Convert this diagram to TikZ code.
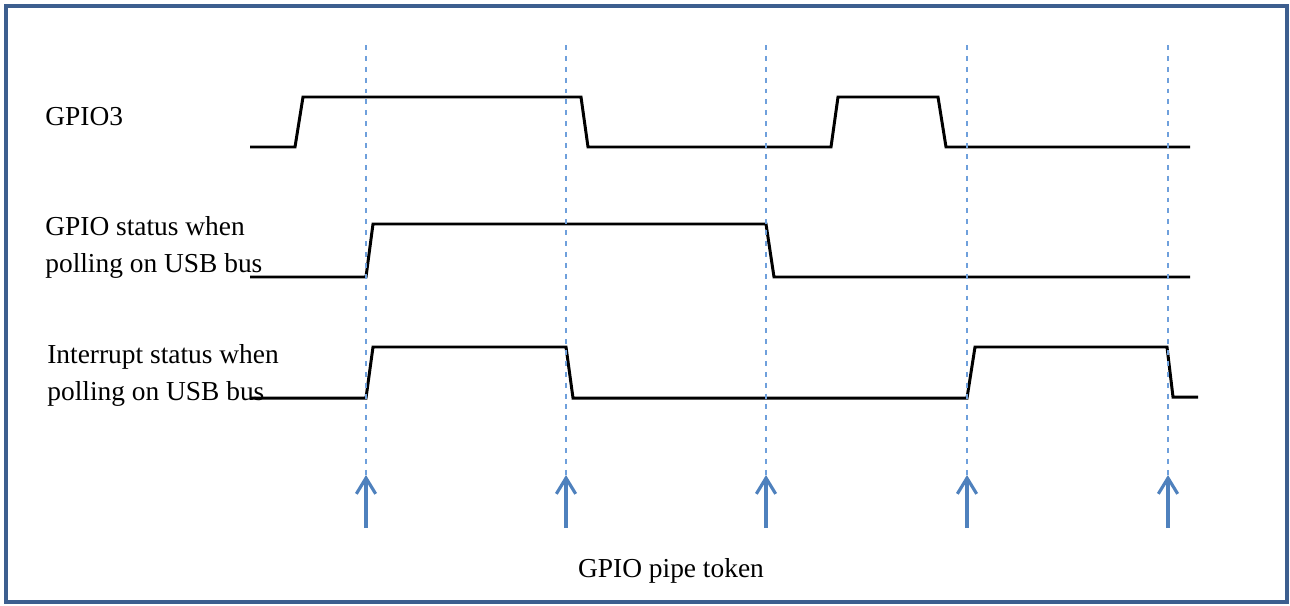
\documentclass[tikz,border=0pt]{standalone}
\usepackage{fontspec}
\setmainfont{Liberation Serif}
\usetikzlibrary{arrows.meta}
\definecolor{framecol}{HTML}{3D5F8F}
\definecolor{tokencol}{HTML}{4F81BD}
\definecolor{gridcol}{HTML}{6FA0DC}

\begin{document}
\begin{tikzpicture}[x=0.02cm, y=-0.02cm,
        signal/.style = {black, line width=1.7pt, line join=miter},
        tick/.style = {gridcol, line width=0.85pt, dash pattern=on 2.8pt off 3.4pt},
        token/.style = {tokencol, line width=1.8pt, -{Straight Barb[length=9pt, width=11pt]}},
        lbl/.style = {font=\fontsize{15.6}{21}\selectfont, inner sep=0pt, align=left},
    ]
        \useasboundingbox (0,0) rectangle (1290,605);
        \draw[framecol, line width=2.8pt] (6,6) rectangle (1287,602);

        % labels
        \node[lbl, anchor=base west] (gpio) at (45,125) {GPIO3};
        \node[lbl, anchor=base west] (poll) at (45,272) {GPIO status when\\polling on USB bus};
        \node[lbl, anchor=base west] (intr) at (47,400) {Interrupt status when\\polling on USB bus};
        \node[lbl, anchor=base] (pipe) at (671,577) {GPIO pipe token};

        % waveforms
        \draw[signal] (250,147) -- (295,147) -- (303,97) -- (581,97) -- (588,147) -- (831,147)
            -- (838,97) -- (938,97) -- (946,147) -- (1190,147);
        \draw[signal] (250,277) -- (366,277) -- (373,224) -- (766,224) -- (774,277) -- (1190,277);
        \draw[signal] (250,398) -- (366,398) -- (373,347) -- (566,347) -- (573,398) -- (967,398)
            -- (975,347) -- (1167,347) -- (1173,397) -- (1198,397);

        % token instants
        \foreach \x [count=\i] in {366,566,766,967,1168} {
            \coordinate (top\i) at (\x,45);
            \coordinate (tip\i) at (\x,475);
            \coordinate (foot\i) at (\x,528);
            \draw[tick] (top\i) -- (tip\i);
            \draw[token] (foot\i) -- (tip\i);
        }
    \end{tikzpicture}
\end{document}
